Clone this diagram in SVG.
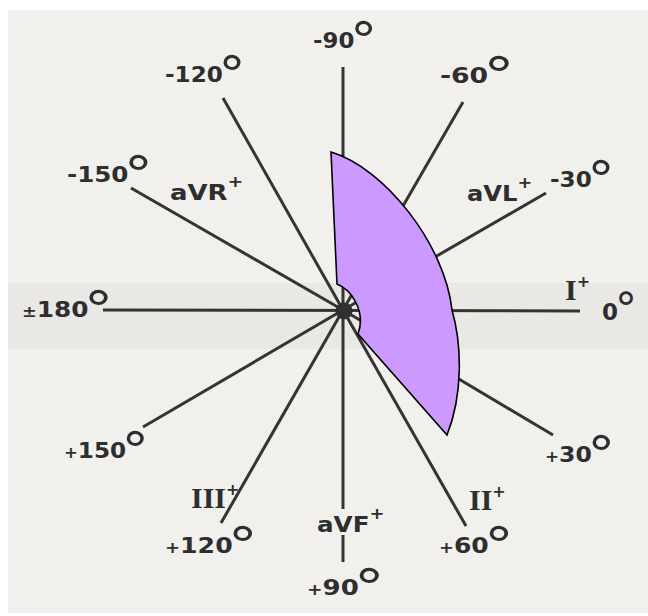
<svg xmlns="http://www.w3.org/2000/svg" width="648" height="616" viewBox="0 0 648 616">
<style>
.ax{stroke:#343434;stroke-width:3;fill:none}
.t{font-family:"DejaVu Sans",sans-serif;font-size:21px;font-weight:bold;fill:#2e2e2e}
.sm{font-size:15px}
.deg{font-size:50px;font-weight:normal}
.sup{font-size:16px;font-weight:bold}
.rom{font-family:"Liberation Serif",serif;font-size:30px;font-weight:bold;fill:#2e2e2e}
.sector{fill:#cc99ff;stroke:#000;stroke-width:1.6;stroke-linejoin:miter}
</style>
<rect x="0" y="0" width="648" height="616" fill="#ffffff"/>
<rect x="8" y="10" width="640" height="603" fill="#f1f0ed"/>
<rect x="8" y="283" width="640" height="66" fill="#e9e8e5"/>

<g id="connectors">
  <line class="ax" x1="343" y1="67" x2="343" y2="310"/>
  <line class="ax" x1="343" y1="310" x2="343" y2="509"/>
  <line class="ax" x1="343" y1="535" x2="343" y2="562"/>
  <line class="ax" x1="103" y1="310" x2="580" y2="311"/>
  <line class="ax" x1="131" y1="188" x2="343" y2="310"/>
  <line class="ax" x1="223" y1="98" x2="343" y2="310"/>
  <line class="ax" x1="463" y1="102" x2="343" y2="310"/>
  <line class="ax" x1="546" y1="193" x2="343" y2="310"/>
  <line class="ax" x1="143" y1="427" x2="343" y2="310"/>
  <line class="ax" x1="221" y1="523" x2="343" y2="310"/>
  <line class="ax" x1="466" y1="526" x2="343" y2="310"/>
  <line class="ax" x1="553" y1="435" x2="343" y2="310"/>
  <circle cx="344" cy="311" r="8.5" fill="#303030"/>
</g>

<g id="sector">
  <path class="sector" d="M331,152 L337,284 C352,290 366,312 358,334 L447,435 C463,395 462,345 452,310 C445,245 385,168 331,152 Z"/>
</g>

<g id="label-m120"><text class="t" transform="translate(165,82) scale(1.1,1)">-120<tspan class="deg" dx="-4" dy="10">°</tspan></text></g>
<g id="label-m90"><text class="t" transform="translate(313,48) scale(1.09,1)">-90<tspan class="deg" dx="-4" dy="10">°</tspan></text></g>
<g id="label-m60"><text class="t" transform="translate(440,83) scale(1.27,1)">-60<tspan class="deg" dx="-4" dy="10">°</tspan></text></g>
<g id="label-m150"><text class="t" transform="translate(67,182) scale(1.17,1)">-150<tspan class="deg" dx="-4" dy="10">°</tspan></text></g>
<g id="label-m30"><text class="t" transform="translate(550,187) scale(1.1,1)">-30<tspan class="deg" dx="-4" dy="10">°</tspan></text></g>
<g id="label-180"><text class="t" transform="translate(22,317) scale(1.18,1)"><tspan class="sm">±</tspan>180<tspan class="deg" dx="-4" dy="10">°</tspan></text></g>
<g id="label-0"><text class="t" transform="translate(602,320)" style="font-size:23px">0<tspan class="deg" style="font-size:44px" dx="-3" dy="4">°</tspan></text></g>
<g id="label-p150"><text class="t" transform="translate(64,458) scale(1.1,1)"><tspan class="sm">+</tspan>150<tspan class="deg" dx="-4" dy="10">°</tspan></text></g>
<g id="label-p30"><text class="t" transform="translate(545,462) scale(1.12,1)"><tspan class="sm">+</tspan>30<tspan class="deg" dx="-4" dy="10">°</tspan></text></g>
<g id="label-p120"><text class="t" transform="translate(165,553) scale(1.2,1)"><tspan class="sm">+</tspan>120<tspan class="deg" dx="-4" dy="10">°</tspan></text></g>
<g id="label-p60"><text class="t" transform="translate(439,553) scale(1.19,1)"><tspan class="sm">+</tspan>60<tspan class="deg" dx="-4" dy="10">°</tspan></text></g>
<g id="label-p90"><text class="t" transform="translate(307,595) scale(1.24,1)"><tspan class="sm">+</tspan>90<tspan class="deg" dx="-4" dy="10">°</tspan></text></g>

<g id="lead-aVR"><text class="t" transform="translate(170,200) scale(1.18,1)" style="font-size:22px">aVR<tspan class="sup" dy="-13">+</tspan></text></g>
<g id="lead-aVL"><text class="t" transform="translate(467,201) scale(1.1,1)" style="font-size:22px">aVL<tspan class="sup" dy="-13">+</tspan></text></g>
<g id="lead-aVF"><text class="t" transform="translate(317,532) scale(1.12,1)" style="font-size:22px">aVF<tspan class="sup" dy="-13">+</tspan></text></g>
<g id="lead-I"><text class="rom" x="565" y="300">I<tspan class="t sup" dy="-13">+</tspan></text></g>
<g id="lead-II"><text class="rom" x="469" y="510">II<tspan class="t sup" dy="-13">+</tspan></text></g>
<g id="lead-III"><text class="rom" x="191" y="508">III<tspan class="t sup" dy="-13">+</tspan></text></g>
</svg>
